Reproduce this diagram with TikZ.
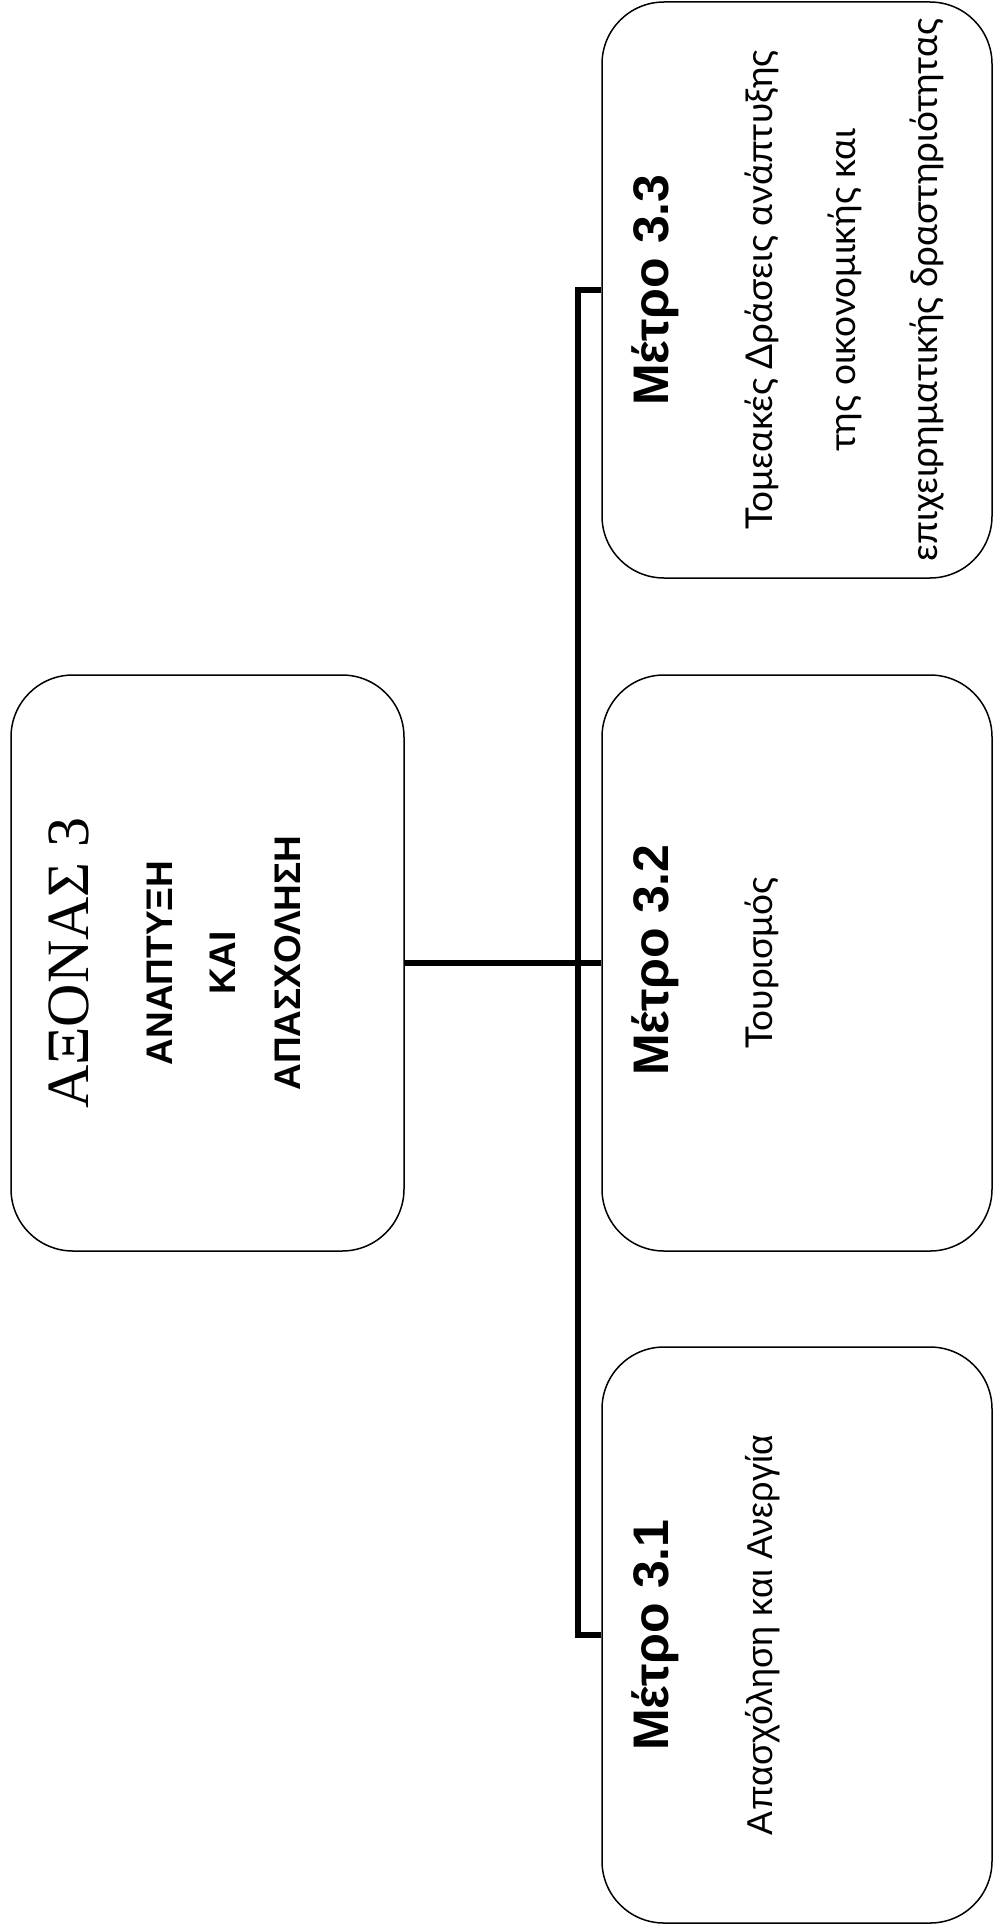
\documentclass[tikz,border=0pt]{standalone}
\usepackage{fontspec}
\setmainfont{Liberation Serif}
\newfontfamily\arialf{Liberation Sans}
\newfontfamily\subf{Lato}
\begin{document}
\begin{tikzpicture}[x=1pt,y=-1pt,
  box/.style={draw=black, line width=1.5pt, rounded corners=62pt, minimum height=576pt, inner sep=0pt},
  conn/.style={draw=black, line width=5.5pt, line join=miter},
  rt/.style={rotate=90, anchor=base, inner sep=0pt},
  bigserif/.style={rt, font=\fontsize{60}{70}\selectfont},
  capb/.style={rt, font=\arialf\bfseries\fontsize{37}{44}\selectfont},
  titleb/.style={rt, font=\arialf\bfseries\fontsize{50}{58}\selectfont},
  subg/.style={rt, font=\subf\fontsize{37}{44}\selectfont},
  suba/.style={rt, font=\arialf\fontsize{36}{43}\selectfont}]
\useasboundingbox (0,0) rectangle (994,1932);
% boxes
\node[box, minimum width=393pt] (main) at (207.5,963) {};
\node[box, minimum width=390pt] (m33) at (797,290) {};
\node[box, minimum width=390pt] (m32) at (797,963) {};
\node[box, minimum width=390pt] (m31) at (797,1635) {};
% connectors
\coordinate (bus) at (578,963);
\draw[conn] (main.east) -- (m32.west);
\draw[conn] (m33.west) -| (bus) |- (m31.west);
% main box texts
\node[bigserif] (t0) at (88,963) {ΑΞΟΝΑΣ 3};
\node[capb] (t1) at (172,963) {ΑΝΑΠΤΥΞΗ};
\node[capb] (t2) at (235,963) {ΚΑΙ};
\node[capb] (t3) at (300,963) {ΑΠΑΣΧΟΛΗΣΗ};
% 3.3
\node[titleb] (h33) at (668,290) {Μέτρο 3.3};
\node[subg] (s33a) at (772,290) {Τομεακές Δράσεις ανάπτυξης};
\node[subg] (s33b) at (855,290) {της οικονομικής και};
\node[subg] (s33c) at (937,290) {επιχειρηματικής δραστηριότητας};
% 3.2
\node[titleb] (h32) at (668,960) {Μέτρο 3.2};
\node[subg] (s32) at (772,963) {Τουρισμός};
% 3.1
\node[titleb] (h31) at (668,1635) {Μέτρο 3.1};
\node[suba] (s31) at (772,1635) {Απασχόληση και Ανεργία};
\end{tikzpicture}
\end{document}
